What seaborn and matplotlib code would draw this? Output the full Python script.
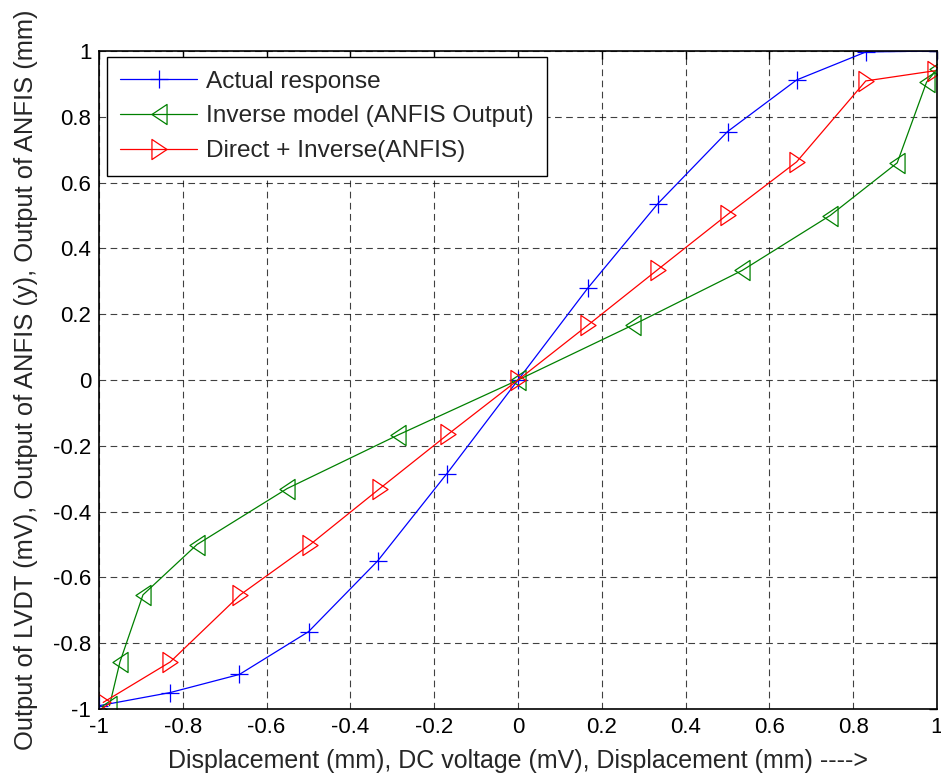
import numpy as np
import pandas as pd
import matplotlib
matplotlib.use("Agg")
import matplotlib.pyplot as plt
from matplotlib.path import Path
import seaborn as sns

# ---- data ----
actual_x = [-1.0, -0.83, -0.665, -0.5, -0.335, -0.17, 0.0, 0.167, 0.333, 0.5, 0.665, 0.83, 1.0]
actual_y = [-0.99, -0.95, -0.895, -0.765, -0.55, -0.285, 0.0, 0.28, 0.535, 0.755, 0.912, 0.997, 1.0]

inverse_x = [-0.975, -0.95, -0.895, -0.766, -0.551, -0.286, 0.0, 0.274, 0.535, 0.745, 0.905, 0.975, 1.0]
inverse_y = [-0.99, -0.857, -0.653, -0.50, -0.33, -0.167, 0.0, 0.167, 0.333, 0.50, 0.66, 0.905, 0.945]

direct_x = [-0.99, -0.83, -0.663, -0.496, -0.33, -0.167, 0.0, 0.167, 0.333, 0.50, 0.665, 0.83, 0.995]
direct_y = [-0.98, -0.857, -0.653, -0.50, -0.33, -0.165, 0.0, 0.167, 0.335, 0.503, 0.663, 0.909, 0.94]

labels = ["Actual response", "Inverse model (ANFIS Output)", "Direct + Inverse(ANFIS)"]
x_ticks = [-1, -0.8, -0.6, -0.4, -0.2, 0, 0.2, 0.4, 0.6, 0.8, 1]
y_ticks = [-1, -0.8, -0.6, -0.4, -0.2, 0, 0.2, 0.4, 0.6, 0.8, 1]
xlabel = "Displacement (mm), DC voltage (mV), Displacement (mm) ---->"
ylabel = "Output of LVDT (mV), Output of ANFIS (y), Output of ANFIS (mm)"

sns.set_style("white")
plt.rcParams["font.family"] = ["Liberation Sans", "DejaVu Sans"]

fig = plt.figure(figsize=(9.41, 7.80), dpi=100)
ax = fig.add_axes([99 / 941, 71 / 780, 838 / 941, 658 / 780])

tri_left = Path([(-0.75, 0), (0.75, 1), (0.75, -1), (-0.75, 0)],
                [Path.MOVETO, Path.LINETO, Path.LINETO, Path.CLOSEPOLY])
tri_right = Path([(0.75, 0), (-0.75, 1), (-0.75, -1), (0.75, 0)],
                 [Path.MOVETO, Path.LINETO, Path.LINETO, Path.CLOSEPOLY])

series = [
    (actual_x, actual_y, labels[0], "#0000ff", "+", 13),
    (inverse_x, inverse_y, labels[1], "#008000", tri_left, 14.5),
    (direct_x, direct_y, labels[2], "#ff0000", tri_right, 14.5),
]
for xs, ys, lab, col, mk, ms in series:
    df = pd.DataFrame({"x": xs, "y": ys})
    sns.lineplot(data=df, x="x", y="y", ax=ax, sort=False, estimator=None,
                 color=col, linewidth=0.9, marker=mk, markersize=ms,
                 markerfacecolor="none", markeredgecolor=col,
                 markeredgewidth=0.9, label=lab)

ax.set_xlim(-1, 1)
ax.set_ylim(-1, 1)
ax.set_xticks(x_ticks)
ax.set_yticks(y_ticks)
ax.set_xticklabels([f"{t:g}" for t in x_ticks])
ax.set_yticklabels([f"{t:g}" for t in y_ticks])
ax.grid(True, color="black", linestyle=(0, (6, 4)), linewidth=0.8, alpha=0.75)
ax.set_axisbelow(True)
for s in ax.spines.values():
    s.set_visible(True)
    s.set_color("black")
    s.set_linewidth(1.2)
ax.tick_params(direction="in", length=6, width=1, top=True, right=True,
               labelsize=16, colors="black")
ax.tick_params(axis="y", pad=5.5)
ax.tick_params(axis="x", pad=6)
ax.set_xlabel(xlabel, fontsize=18, labelpad=8)
ax.set_ylabel(ylabel, fontsize=18.4, labelpad=11)

leg = ax.legend(loc="upper left", bbox_to_anchor=(8 / 838, 1 - 6 / 658),
                borderaxespad=0, fontsize=17.6, frameon=True, fancybox=False,
                framealpha=1, edgecolor="black", handlelength=3.15,
                handletextpad=0.33, labelspacing=0.52, borderpad=0.55)
leg.get_frame().set_linewidth(1.0)

fig.savefig("out.png", dpi=100, facecolor="white")
